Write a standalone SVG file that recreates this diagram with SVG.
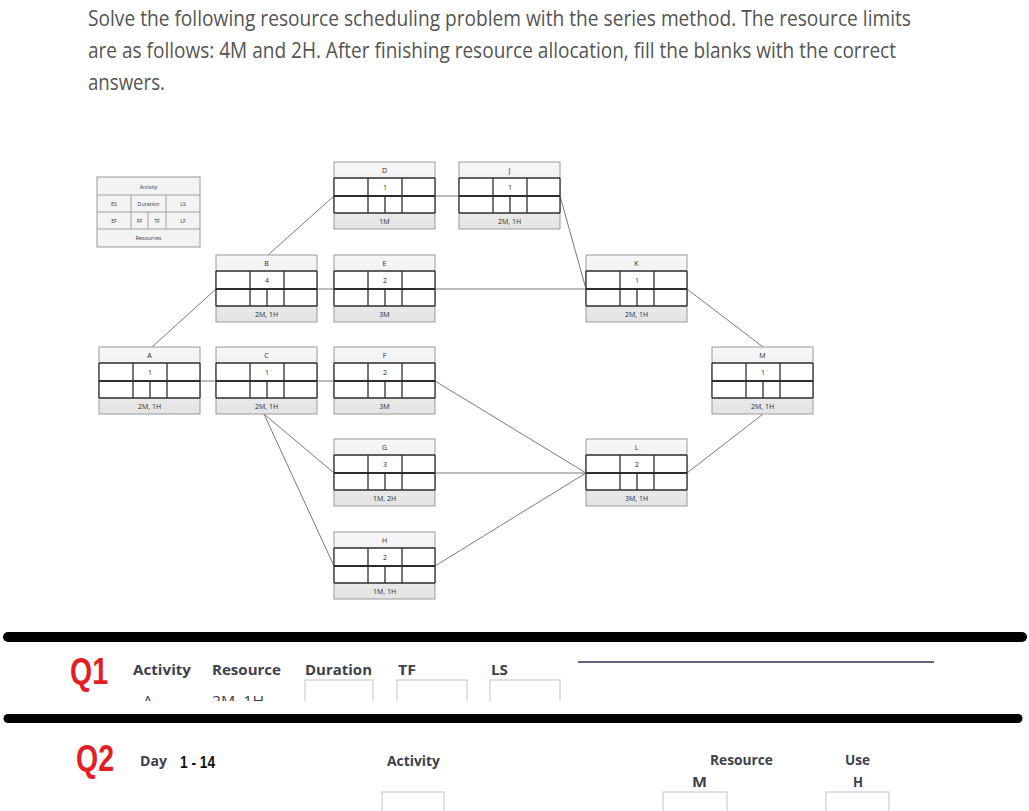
<svg xmlns="http://www.w3.org/2000/svg" width="1029" height="811" viewBox="0 0 1029 811">
<defs>
<style>
.hdr{font-family:"Open Sans","Liberation Sans",sans-serif;font-size:21px;fill:#555;}
.nt{font-family:"Open Sans","Liberation Sans",sans-serif;font-size:7px;fill:#2a2a2a;text-anchor:middle;}
.lt{font-family:"Open Sans","Liberation Sans",sans-serif;font-size:5.3px;fill:#333;text-anchor:middle;}
.conn{stroke:#7a7a7a;stroke-width:1;fill:none;}
.lbl{font-family:"Open Sans","Liberation Sans",sans-serif;font-weight:bold;font-size:15px;fill:#3c414e;}
.q{font-family:"Liberation Sans",Arial,sans-serif;font-weight:bold;font-size:36px;fill:#e51e25;}
.inp{fill:#fff;stroke:#c8ced6;stroke-width:1.2;}
.grid{stroke:#2e2e2e;stroke-width:1.3;fill:none;}
</style>
<linearGradient id="gr" x1="0" y1="0" x2="0" y2="1">
<stop offset="0" stop-color="#f7f7f7"/>
<stop offset="1" stop-color="#e4e4e4"/>
</linearGradient>
<g id="box">
<rect x="0" y="0" width="101" height="67" fill="url(#gr)" stroke="#9a9a9a" stroke-width="1"/>
<rect x="0" y="16" width="101" height="35" fill="#fff"/>
<path class="grid" d="M0 16H101M0 51H101M0 16V51M101 16V51M34 16V51M68 16V51M51 34V51"/>
<path d="M0 34H101" stroke="#2e2e2e" stroke-width="1.8"/>
</g>
<clipPath id="q1clip"><rect x="0" y="640" width="1029" height="61"/></clipPath>
</defs>

<g id="question">
<text class="hdr" x="88" y="26" textLength="823" lengthAdjust="spacingAndGlyphs">Solve the following resource scheduling problem with the series method. The resource limits</text>
<text class="hdr" x="88" y="58" textLength="808" lengthAdjust="spacingAndGlyphs">are as follows: 4M and 2H. After finishing resource allocation, fill the blanks with the correct</text>
<text class="hdr" x="88" y="90" textLength="77" lengthAdjust="spacingAndGlyphs">answers.</text>
</g>

<g id="legend">
<rect x="97" y="177" width="103" height="70" fill="#f3f3f3" stroke="#9a9a9a" stroke-width="1"/>
<path d="M97 195H200M97 212H200M97 229H200M131 195V229M166 195V229M148 212V229" stroke="#a0a0a0" stroke-width="1" fill="none"/>
<text class="lt" x="148.5" y="188.5">Activity</text>
<text class="lt" x="114" y="205.5">ES</text>
<text class="lt" x="148.5" y="205.5">Duration</text>
<text class="lt" x="183" y="205.5">LS</text>
<text class="lt" x="114" y="222.5">EF</text>
<text class="lt" x="139.5" y="222.5">FF</text>
<text class="lt" x="157" y="222.5">TF</text>
<text class="lt" x="183" y="222.5">LF</text>
<text class="lt" x="148.5" y="240">Resources</text>
</g>

<g id="connectors">
<line class="conn" x1="152" y1="347" x2="216" y2="289"/>
<line class="conn" x1="200" y1="381" x2="216" y2="381"/>
<line class="conn" x1="268" y1="255" x2="334" y2="196"/>
<line class="conn" x1="317" y1="289" x2="334" y2="289"/>
<line class="conn" x1="317" y1="381" x2="334" y2="381"/>
<line class="conn" x1="264" y1="414" x2="334" y2="473"/>
<line class="conn" x1="264" y1="414" x2="334" y2="566"/>
<line class="conn" x1="435" y1="196" x2="459" y2="196"/>
<line class="conn" x1="435" y1="289" x2="586" y2="289"/>
<line class="conn" x1="560" y1="196" x2="586" y2="289"/>
<line class="conn" x1="435" y1="381" x2="586" y2="473"/>
<line class="conn" x1="435" y1="473" x2="586" y2="473"/>
<line class="conn" x1="435" y1="566" x2="586" y2="473"/>
<line class="conn" x1="687" y1="289" x2="763" y2="347"/>
<line class="conn" x1="687" y1="473" x2="763" y2="414"/>
</g>

<g id="node-A" transform="translate(99,347)"><use href="#box"/><text class="nt" x="50.5" y="11">A</text><text class="nt" x="51" y="28">1</text><text class="nt" x="50.5" y="62" font-size="5.5">2M, 1H</text></g>
<g id="node-B" transform="translate(216,255)"><use href="#box"/><text class="nt" x="50.5" y="11">B</text><text class="nt" x="51" y="28">4</text><text class="nt" x="50.5" y="62">2M, 1H</text></g>
<g id="node-C" transform="translate(216,347)"><use href="#box"/><text class="nt" x="50.5" y="11">C</text><text class="nt" x="51" y="28">1</text><text class="nt" x="50.5" y="62">2M, 1H</text></g>
<g id="node-D" transform="translate(334,162)"><use href="#box"/><text class="nt" x="50.5" y="11">D</text><text class="nt" x="51" y="28">1</text><text class="nt" x="50.5" y="62">1M</text></g>
<g id="node-E" transform="translate(334,255)"><use href="#box"/><text class="nt" x="50.5" y="11">E</text><text class="nt" x="51" y="28">2</text><text class="nt" x="50.5" y="62" font-size="5.5">3M</text></g>
<g id="node-F" transform="translate(334,347)"><use href="#box"/><text class="nt" x="50.5" y="11">F</text><text class="nt" x="51" y="28">2</text><text class="nt" x="50.5" y="62">3M</text></g>
<g id="node-G" transform="translate(334,439)"><use href="#box"/><text class="nt" x="50.5" y="11">G</text><text class="nt" x="51" y="28">3</text><text class="nt" x="50.5" y="62">1M, 2H</text></g>
<g id="node-H" transform="translate(334,532)"><use href="#box"/><text class="nt" x="50.5" y="11">H</text><text class="nt" x="51" y="28">2</text><text class="nt" x="50.5" y="62">1M, 1H</text></g>
<g id="node-J" transform="translate(459,162)"><use href="#box"/><text class="nt" x="50.5" y="11">J</text><text class="nt" x="51" y="28">1</text><text class="nt" x="50.5" y="62" font-size="5.5">2M, 1H</text></g>
<g id="node-K" transform="translate(586,255)"><use href="#box"/><text class="nt" x="50.5" y="11">K</text><text class="nt" x="51" y="28">1</text><text class="nt" x="50.5" y="62">2M, 1H</text></g>
<g id="node-L" transform="translate(586,439)"><use href="#box"/><text class="nt" x="50.5" y="11">L</text><text class="nt" x="51" y="28">2</text><text class="nt" x="50.5" y="62">3M, 1H</text></g>
<g id="node-M" transform="translate(712,347)"><use href="#box"/><text class="nt" x="50.5" y="11">M</text><text class="nt" x="51" y="28">1</text><text class="nt" x="50.5" y="62">2M, 1H</text></g>

<g id="q1">
<line x1="8" y1="637" x2="1022" y2="637" stroke="#000" stroke-width="10" stroke-linecap="round"/>
<text class="q" x="70" y="684" textLength="38" lengthAdjust="spacingAndGlyphs">Q1</text>
<text class="lbl" x="133" y="675" textLength="58" lengthAdjust="spacingAndGlyphs">Activity</text>
<text class="lbl" x="212" y="675" textLength="69" lengthAdjust="spacingAndGlyphs">Resource</text>
<text class="lbl" x="305" y="675" textLength="67" lengthAdjust="spacingAndGlyphs">Duration</text>
<text class="lbl" x="398" y="675" textLength="18" lengthAdjust="spacingAndGlyphs">TF</text>
<text class="lbl" x="491" y="675" textLength="17" lengthAdjust="spacingAndGlyphs">LS</text>
<line x1="578" y1="662" x2="934" y2="662" stroke="#3b2a55" stroke-width="1.3"/>
<g clip-path="url(#q1clip)">
<text x="143" y="706" font-family="'Open Sans','Liberation Sans',sans-serif" font-size="15" fill="#3c414e">A</text>
<text x="212" y="706" font-family="'Open Sans','Liberation Sans',sans-serif" font-size="15" fill="#3c414e" textLength="52" lengthAdjust="spacingAndGlyphs">2M, 1H</text>
<rect class="inp" x="305" y="680" width="68" height="40"/>
<rect class="inp" x="397" y="680" width="70" height="40"/>
<rect class="inp" x="490" y="680" width="70" height="40"/>
</g>
</g>

<g id="q2">
<line x1="8" y1="718.5" x2="1018" y2="718.5" stroke="#000" stroke-width="9" stroke-linecap="round"/>
<text class="q" x="76" y="771" textLength="38" lengthAdjust="spacingAndGlyphs">Q2</text>
<text class="lbl" x="140" y="766" textLength="27" lengthAdjust="spacingAndGlyphs">Day</text>
<text x="180" y="768" font-family="'Liberation Sans',Arial,sans-serif" font-weight="bold" font-size="16" fill="#111" textLength="35" lengthAdjust="spacingAndGlyphs">1 - 14</text>
<text class="lbl" x="387" y="766" textLength="53" lengthAdjust="spacingAndGlyphs">Activity</text>
<rect class="inp" x="382" y="792" width="62" height="30"/>
<text class="lbl" x="710" y="765" textLength="63" lengthAdjust="spacingAndGlyphs">Resource</text>
<text class="lbl" x="845" y="765" textLength="25" lengthAdjust="spacingAndGlyphs">Use</text>
<text class="lbl" x="692" y="787" textLength="15" lengthAdjust="spacingAndGlyphs">M</text>
<text class="lbl" x="853" y="787" textLength="10" lengthAdjust="spacingAndGlyphs">H</text>
<rect class="inp" x="663" y="792" width="64" height="30"/>
<rect class="inp" x="826" y="792" width="63" height="30"/>
</g>
</svg>
